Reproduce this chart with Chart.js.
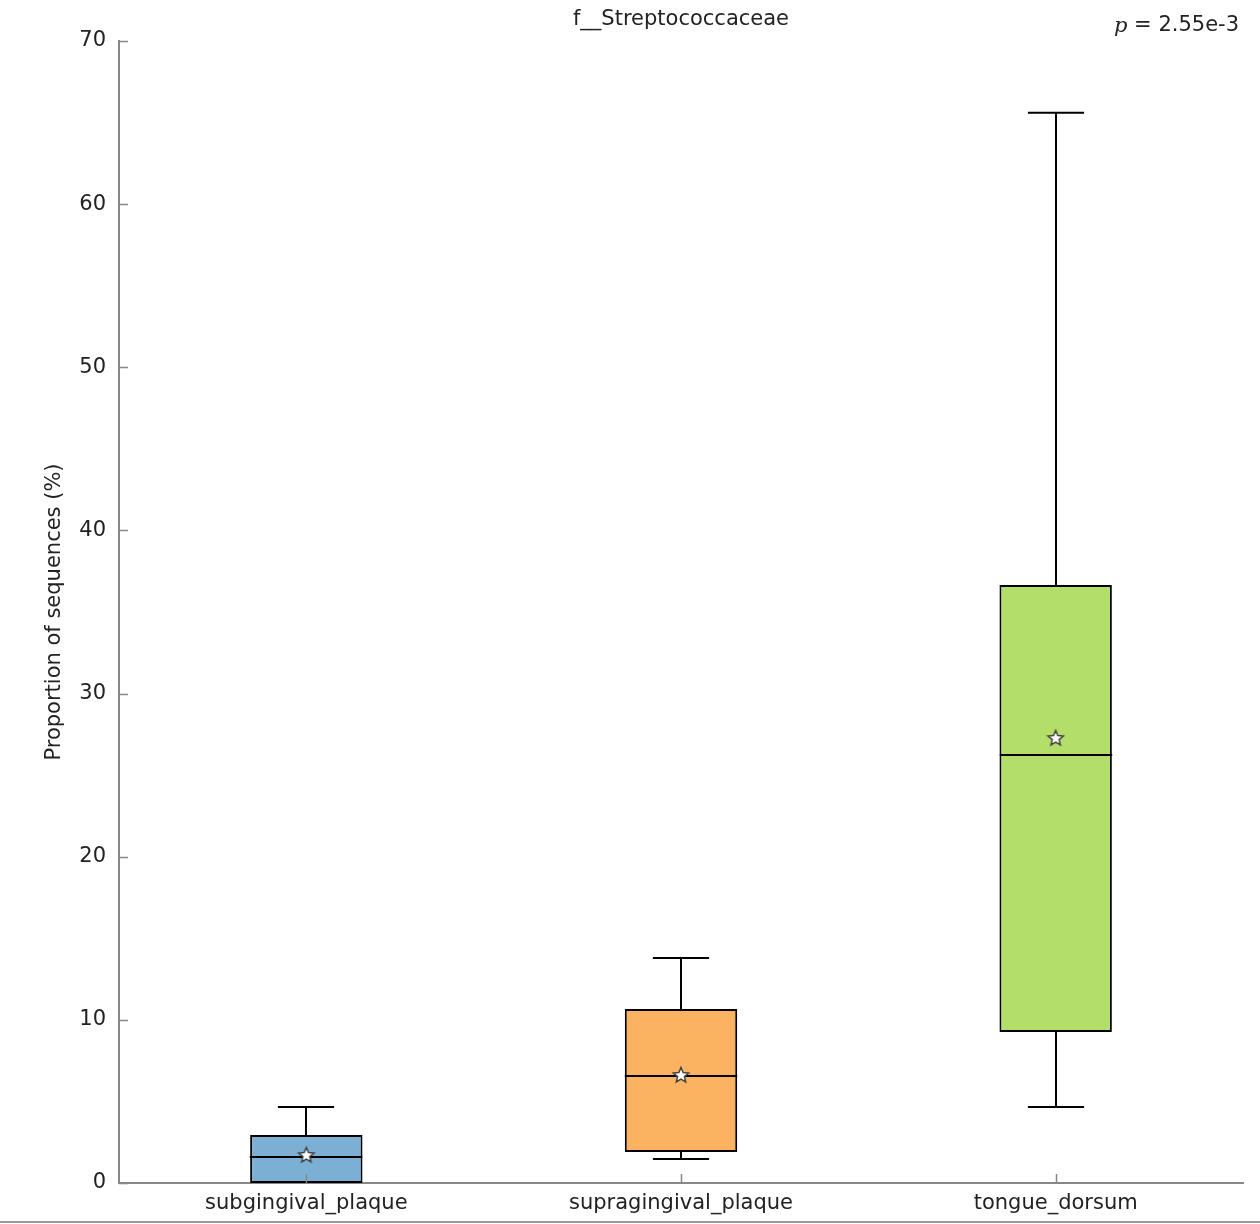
<!DOCTYPE html>
<html><head><meta charset="utf-8">
<script src="https://cdn.jsdelivr.net/npm/chart.js@4/dist/chart.umd.min.js"></script>
<style>html,body{margin:0;padding:0;background:#fff}#wrap{width:1260px;height:1224px;position:relative}</style>
</head><body><div id="wrap"><canvas id="c" width="1260" height="1224"></canvas></div>
<script>
const categories = ['subgingival_plaque', 'supragingival_plaque', 'tongue_dorsum'];
const whiskerLow = [0, 1.47, 4.66];
const q1 = [0, 1.9, 9.26];
const medians = [1.6, 6.56, 26.24];
const q3 = [2.94, 10.67, 36.66];
const whiskerHigh = [4.66, 13.79, 65.6];
const means = [1.72, 6.62, 27.28];
const boxColors = ['#7bafd3', '#fbb261', '#b3de69'];
const yTicks = [0, 10, 20, 30, 40, 50, 60, 70];
const titleText = 'f__Streptococcaceae';
const pValueText = '2.55e-3';
const yLabel = 'Proportion of sequences (%)';

const FONT = '"DejaVu Sans", sans-serif';

function makeStar() {
  const c = document.createElement('canvas');
  c.width = 22; c.height = 22;
  const g = c.getContext('2d');
  const cx = 11, cy = 11.5, R = 8, r = 3.6;
  g.beginPath();
  for (let i = 0; i < 10; i++) {
    const rad = i % 2 === 0 ? R : r;
    const a = -Math.PI / 2 + i * Math.PI / 5;
    const x = cx + rad * Math.cos(a), y = cy + rad * Math.sin(a);
    if (i === 0) g.moveTo(x, y); else g.lineTo(x, y);
  }
  g.closePath();
  g.fillStyle = '#ffffff';
  g.fill();
  g.lineWidth = 1.5;
  g.strokeStyle = '#444444';
  g.stroke();
  return c;
}
const starImg = makeStar();

const boxPlugin = {
  id: 'boxParts',
  afterDatasetDraw(chart, args) {
    if (args.index !== 0) return;
    const ctx = chart.ctx;
    const xs = chart.scales.x, ys = chart.scales.y;
    const meta = chart.getDatasetMeta(0);
    ctx.save();
    ctx.strokeStyle = '#000';
    ctx.lineWidth = 2;
    ctx.lineCap = 'butt';
    categories.forEach((cat, i) => {
      const cx = Math.round(xs.getPixelForValue(i));
      const bar = meta.data[i];
      const half = bar.width / 2;
      const capHalf = half / 2;
      const yHi = ys.getPixelForValue(whiskerHigh[i]);
      const yLo = ys.getPixelForValue(whiskerLow[i]);
      const yQ1 = ys.getPixelForValue(q1[i]);
      const yQ3 = ys.getPixelForValue(q3[i]);
      const yMed = ys.getPixelForValue(medians[i]);
      ctx.beginPath();
      ctx.moveTo(cx, yQ3); ctx.lineTo(cx, yHi);
      ctx.moveTo(cx - capHalf, yHi); ctx.lineTo(cx + capHalf, yHi);
      if (whiskerLow[i] < q1[i]) {
        ctx.moveTo(cx, yQ1); ctx.lineTo(cx, yLo);
        ctx.moveTo(cx - capHalf, yLo); ctx.lineTo(cx + capHalf, yLo);
      }
      ctx.moveTo(cx - half, yMed); ctx.lineTo(cx + half, yMed);
      ctx.stroke();
    });
    ctx.restore();
  },
  afterDraw(chart) {
    const ctx = chart.ctx;
    const xs = chart.scales.x, ys = chart.scales.y;
    const a = chart.chartArea;
    ctx.save();
    // inward ticks
    ctx.strokeStyle = '#888';
    ctx.lineWidth = 1.5;
    ctx.beginPath();
    yTicks.forEach(v => {
      const y = Math.round(ys.getPixelForValue(v)) + 0.5;
      ctx.moveTo(a.left, y); ctx.lineTo(a.left + 9, y);
    });
    categories.forEach((c, i) => {
      const x = Math.round(xs.getPixelForValue(i)) + 0.5;
      ctx.moveTo(x, a.bottom); ctx.lineTo(x, a.bottom - 9);
    });
    ctx.stroke();
    // bottom frame line
    ctx.strokeStyle = '#999';
    ctx.lineWidth = 2;
    ctx.beginPath();
    ctx.moveTo(0, 1222); ctx.lineTo(1260, 1222);
    ctx.stroke();
    // title
    ctx.fillStyle = '#222';
    ctx.font = '21px ' + FONT;
    ctx.textAlign = 'center';
    ctx.textBaseline = 'middle';
    ctx.fillText(titleText, (a.left + a.right) / 2, 20);
    // p-value
    ctx.textAlign = 'right';
    const rest = ' = ' + pValueText;
    const restW = ctx.measureText(rest).width;
    ctx.fillText(rest, 1239, 26);
    ctx.font = 'italic 21px "DejaVu Serif", serif';
    ctx.fillText('p', 1239 - restW, 27);
    // y label
    ctx.font = '21px ' + FONT;
    ctx.textAlign = 'center';
    ctx.translate(55, (a.top + a.bottom) / 2);
    ctx.rotate(-Math.PI / 2);
    ctx.fillText(yLabel, 0, 0);
    ctx.restore();
  }
};

new Chart(document.getElementById('c'), {
  type: 'bar',
  data: {
    labels: categories,
    datasets: [
      {
        type: 'bar',
        order: 2,
        data: categories.map((c, i) => [q1[i], q3[i]]),
        backgroundColor: boxColors,
        borderColor: '#000',
        borderWidth: 2,
        borderSkipped: false,
        barPercentage: 0.3,
        categoryPercentage: 1.0
      },
      {
        type: 'line',
        order: 1,
        data: means,
        showLine: false,
        pointStyle: starImg,
        pointRadius: 8
      }
    ]
  },
  plugins: [boxPlugin],
  options: {
    responsive: false,
    animation: false,
    layout: { padding: { left: 0, top: 41, right: 17, bottom: 0 } },
    plugins: { legend: { display: false }, tooltip: { enabled: false }, title: { display: false } },
    scales: {
      x: {
        grid: { display: false, drawTicks: false },
        border: { display: true, color: '#888', width: 2 },
        ticks: { color: '#222', font: { family: FONT, size: 21 }, padding: 8, maxRotation: 0 },
        afterFit(s) { s.height = 41; }
      },
      y: {
        min: 0, max: 70,
        grid: { display: false, drawTicks: false },
        border: { display: true, color: '#888', width: 2 },
        ticks: { stepSize: 10, color: '#222', font: { family: FONT, size: 21 }, padding: 13 },
        afterFit(s) { s.width = 119; }
      }
    }
  }
});
</script>
</body></html>
